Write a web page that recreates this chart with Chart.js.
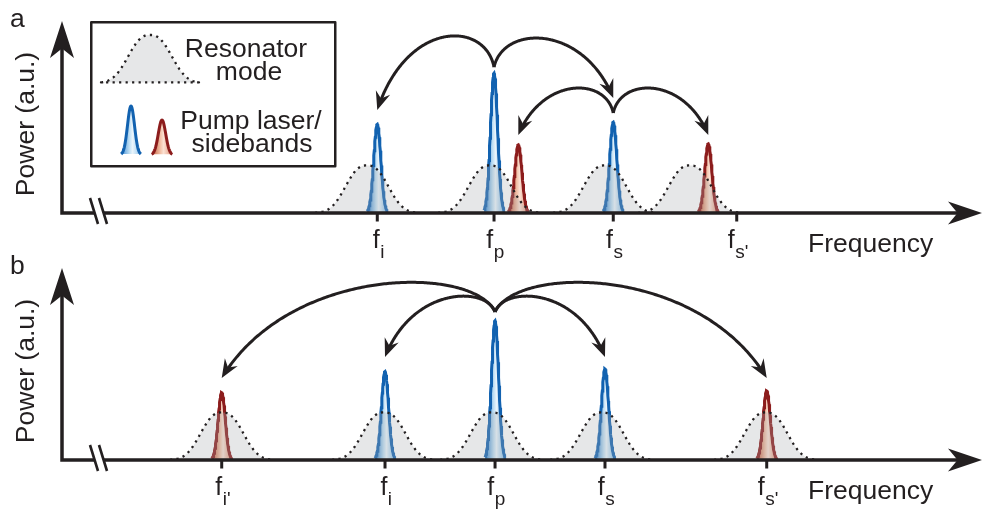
<!DOCTYPE html>
<html><head><meta charset="utf-8">
<script src="https://cdn.jsdelivr.net/npm/chart.js@4"></script>
<style>
html,body{margin:0;padding:0;background:#fff;width:982px;height:511px;overflow:hidden}
.panel{position:absolute;left:0;width:982px;height:264px}
#pa{top:0}
#pb{top:247px}
</style></head><body>
<div class="panel" id="pa"><canvas id="ca" width="982" height="264"></canvas></div>
<div class="panel" id="pb"><canvas id="cb" width="982" height="264"></canvas></div>
<script>
// ---------------- data (arbitrary frequency / power units) ----------------
// Panel a
const ticksA = [34.27, 46.96, 59.92, 73.34];
const tickSubsA = ['i', 'p', 's', "s'"];
const modeCentersA = [33.15, 46.52, 59.02, 68.26];
const pumpCentersA = [34.27, 46.96, 59.92];
const pumpHeightsA = [46.2, 72.8, 47.3];
const sideCentersA = [49.60, 70.25];
const sideHeightsA = [35.5, 36.0];
const arrowFromA = [[46.96, 76.0], [46.96, 76.0], [59.92, 52.1], [59.92, 52.1]];
const arrowToA = [[34.27, 53.6], [59.92, 59.9], [49.60, 40.6], [70.25, 40.6]];
const arrowLiftA = [100.5, 98.3, 71.0, 71.0];

// Panel b
const ticksB = [17.36, 35.11, 47.07, 59.02, 76.60];
const tickSubsB = ["i'", 'i', 'p', 's', "s'"];
const modeCentersB = [17.39, 35.0, 46.74, 58.70, 76.52];
const pumpCentersB = [35.11, 47.07, 59.02];
const pumpHeightsB = [46.1, 72.5, 47.5];
const sideCentersB = [17.36, 76.60];
const sideHeightsB = [35.1, 36.0];
const arrowFromB = [[47.07, 77.1], [47.07, 77.1], [47.07, 77.1], [47.07, 77.1]];
const arrowToB = [[35.11, 53.6], [59.02, 53.6], [17.36, 42.7], [76.60, 42.7]];
const arrowLiftB = [90.6, 90.6, 101.6, 101.6];

// shared shape parameters
const modeHeight = 24.8;
const modeScale = 2.89;     // super-Gaussian width
const modePower = 2.5;
const modeHalfWidth = 5.65; // truncation
const lineSigma = 0.39;

// ---------------- styling ----------------
const INK = '#231f20';
const BLUE = '#1262b0';
const RED = '#8c1c1c';
const FONT = '"Liberation Sans", Arial, Helvetica, sans-serif';

function modeProfile(d, a) {
  return Math.exp(-Math.pow(Math.abs(d / a), modePower));
}
function modeShape(c) {
  const pts = [];
  const n = 90;
  for (let i = 0; i <= n; i++) {
    const d = -modeHalfWidth + 2 * modeHalfWidth * i / n;
    pts.push({x: c + d, y: modeHeight * modeProfile(d, modeScale)});
  }
  return pts;
}
function peakShape(c, h) {
  const pts = [];
  const n = 60, r = 2.8 * lineSigma;
  for (let i = 0; i <= n; i++) {
    const d = -r + 2 * r * i / n;
    pts.push({x: c + d, y: h * Math.exp(-d * d / (2 * lineSigma * lineSigma))});
  }
  return pts;
}
function gradFill(center, stops, fallback) {
  return (ctx) => {
    const chart = ctx.chart;
    if (!chart.chartArea) return fallback;
    const px = chart.scales.x.getPixelForValue(center);
    const g = chart.ctx.createLinearGradient(px - 9, 0, px + 9, 0);
    stops.forEach(s => g.addColorStop(s[0], s[1]));
    return g;
  };
}
const blueStops = [[0, '#3f8bd1'], [0.42, '#bfdff4'], [0.58, '#eaf5fc'], [1, '#8cc2ea']];
const redStops = [[0, '#c4603f'], [0.42, '#f2c1a8'], [0.58, '#fbe1d3'], [1, '#e3967a']];

function buildDatasets(modes, pumpC, pumpH, sideC, sideH) {
  const ds = [];
  modes.forEach(c => ds.push({
    data: modeShape(c), borderColor: INK, borderWidth: 2.3, borderDash: [2.2, 4.3],
    backgroundColor: 'rgba(168,171,176,0.29)', fill: 'origin', pointRadius: 0, order: 0
  }));
  pumpC.forEach((c, i) => ds.push({
    data: peakShape(c, pumpH[i]), borderColor: BLUE, borderWidth: 3,
    backgroundColor: gradFill(c, blueStops, '#bfe0f4'), fill: 'origin', pointRadius: 0, order: 1
  }));
  sideC.forEach((c, i) => ds.push({
    data: peakShape(c, sideH[i]), borderColor: RED, borderWidth: 3,
    backgroundColor: gradFill(c, redStops, '#f3c0a8'), fill: 'origin', pointRadius: 0, order: 1
  }));
  return ds;
}

function head(c, tx, ty, dx, dy, L, W, notch) {
  const len = Math.hypot(dx, dy); dx /= len; dy /= len;
  const nx = -dy, ny = dx;
  c.beginPath();
  c.moveTo(tx, ty);
  c.lineTo(tx - dx * L + nx * W, ty - dy * L + ny * W);
  c.lineTo(tx - dx * L * notch, ty - dy * L * notch);
  c.lineTo(tx - dx * L - nx * W, ty - dy * L - ny * W);
  c.closePath();
  c.fill();
}

function drawArrow(c, xs, ys, from, to, lift) {
  const x0 = xs.getPixelForValue(from[0]), y0 = ys.getPixelForValue(from[1]);
  const x3 = xs.getPixelForValue(to[0]), y3 = ys.getPixelForValue(to[1]);
  const yc = ys.getPixelForValue(lift);
  const dx = x3 - x0;
  const x1 = x0 + 0.08 * dx, x2 = x3 - 0.25 * dx;
  const bez = (t, a, b, cc, d) => {
    const u = 1 - t;
    return u * u * u * a + 3 * u * u * t * b + 3 * u * t * t * cc + t * t * t * d;
  };
  c.beginPath();
  c.moveTo(x0, y0);
  for (let i = 1; i <= 200; i++) {
    const t = i / 200;
    const px = bez(t, x0, x1, x2, x3), py = bez(t, y0, yc, yc, y3);
    if (Math.hypot(px - x3, py - y3) < 11) break;
    c.lineTo(px, py);
  }
  c.stroke();
  head(c, x3, y3, x3 - x2, y3 - yc, 18.5, 7.5, 0.66);
}

function drawSubLabel(c, x, y0, sub) {
  c.textBaseline = 'alphabetic';
  c.textAlign = 'left';
  c.font = '25px ' + FONT;
  const wf = c.measureText('f').width;
  c.font = '19px ' + FONT;
  const ws = c.measureText(sub).width;
  const left = x - (wf + ws) / 2 + 1;
  c.font = '25px ' + FONT;
  c.fillText('f', left, y0 + 35);
  c.font = '19px ' + FONT;
  c.fillText(sub, left + wf + 0.5, y0 + 45);
}

function legendPeak(c, cx, base, h, sigma, stroke, stops) {
  const r = 2.8 * sigma;
  c.beginPath();
  for (let i = 0; i <= 60; i++) {
    const d = -r + 2 * r * i / 60;
    const y = base - h * Math.exp(-d * d / (2 * sigma * sigma));
    if (i === 0) c.moveTo(cx + d, y); else c.lineTo(cx + d, y);
  }
  const g = c.createLinearGradient(cx - 10, 0, cx + 10, 0);
  stops.forEach(s => g.addColorStop(s[0], s[1]));
  c.fillStyle = g;
  c.fill();
  c.strokeStyle = stroke;
  c.lineWidth = 3;
  c.stroke();
}

function makeDeco(cfg) {
  return {
    id: 'deco',
    afterDatasetsDraw(chart) {
      const c = chart.ctx, xs = chart.scales.x, ys = chart.scales.y, ca = chart.chartArea;
      const y0 = ys.getPixelForValue(0), x0 = ca.left;
      c.save();
      c.strokeStyle = INK; c.fillStyle = INK;
      // axes
      c.lineWidth = 3.5; c.lineCap = 'butt';
      c.beginPath();
      c.moveTo(x0, y0 + 1.75); c.lineTo(x0, ca.top + 26);
      c.moveTo(x0 - 1.75, y0); c.lineTo(x0 + 32.6, y0);
      c.moveTo(x0 + 41.6, y0); c.lineTo(ca.right - 24, y0);
      c.stroke();
      head(c, x0, ca.top, 0, -1, 37, 12, 0.74);
      head(c, ca.right, y0, 1, 0, 34, 11.5, 0.72);
      // axis break
      c.lineWidth = 2.6;
      c.beginPath();
      c.moveTo(x0 + 28, y0 - 15); c.lineTo(x0 + 36, y0 + 11);
      c.moveTo(x0 + 37, y0 - 15); c.lineTo(x0 + 45, y0 + 11);
      c.stroke();
      // ticks + labels
      cfg.ticks.forEach((t, i) => {
        const px = xs.getPixelForValue(t);
        c.fillRect(px - 1.5, y0, 3, 8.5);
        drawSubLabel(c, px, y0, cfg.subs[i]);
      });
      // Frequency label
      c.font = '26.5px ' + FONT;
      c.textAlign = 'left'; c.textBaseline = 'alphabetic';
      c.fillText('Frequency', x0 + 746, y0 + 39);
      // Power label
      c.save();
      c.translate(27, y0 - 89);
      c.rotate(-Math.PI / 2);
      c.textAlign = 'center'; c.textBaseline = 'middle';
      c.fillText('Power (a.u.)', 0, 0);
      c.restore();
      // panel letter
      c.textAlign = 'left';
      c.fillText(cfg.letter, 10, y0 - 186);
      // arrows
      c.lineWidth = 3; c.lineJoin = 'round';
      cfg.from.forEach((f, i) => drawArrow(c, xs, ys, f, cfg.to[i], cfg.lift[i]));
      // legend
      if (cfg.legend) {
        c.lineWidth = 2.5;
        c.strokeStyle = INK;
        c.strokeRect(91.25, 22.25, 244, 144);
        // mode glyph
        c.beginPath();
        const gx = 150, gw = 49, gb = 83, gh = 48;
        for (let i = 0; i <= 80; i++) {
          const d = -gw + 2 * gw * i / 80;
          const y = gb - gh * modeProfile(d, 27);
          if (i === 0) c.moveTo(gx + d, y); else c.lineTo(gx + d, y);
        }
        c.closePath();
        c.fillStyle = '#e6e7e8';
        c.fill();
        c.setLineDash([2.2, 4.3]);
        c.lineWidth = 2.3;
        c.stroke();
        c.setLineDash([]);
        legendPeak(c, 131, 155, 49, 3.5, BLUE, blueStops);
        legendPeak(c, 162, 155, 35, 3.7, RED, redStops);
        c.fillStyle = INK;
        c.font = '26.5px ' + FONT;
        c.textAlign = 'center'; c.textBaseline = 'alphabetic';
        c.fillText('Resonator', 246, 57);
        c.fillText('mode', 249, 80);
        c.fillText('Pump laser/', 251, 129);
        c.fillText('sidebands', 252, 152);
      }
      c.restore();
    }
  };
}

function makeChart(id, datasets, deco) {
  return new Chart(document.getElementById(id), {
    type: 'line',
    data: {datasets},
    options: {
      responsive: false, devicePixelRatio: 1, animation: false, events: [],
      layout: {padding: {left: 62, right: 0, top: 21, bottom: 51}},
      scales: {
        x: {type: 'linear', min: 0, max: 100, display: false},
        y: {type: 'linear', min: 0, max: 100, display: false}
      },
      elements: {line: {tension: 0}},
      plugins: {legend: {display: false}, tooltip: {enabled: false}}
    },
    plugins: [deco]
  });
}

makeChart('ca', buildDatasets(modeCentersA, pumpCentersA, pumpHeightsA, sideCentersA, sideHeightsA),
  makeDeco({ticks: ticksA, subs: tickSubsA, from: arrowFromA, to: arrowToA, lift: arrowLiftA, letter: 'a', legend: true}));
makeChart('cb', buildDatasets(modeCentersB, pumpCentersB, pumpHeightsB, sideCentersB, sideHeightsB),
  makeDeco({ticks: ticksB, subs: tickSubsB, from: arrowFromB, to: arrowToB, lift: arrowLiftB, letter: 'b', legend: false}));
</script>
</body></html>
